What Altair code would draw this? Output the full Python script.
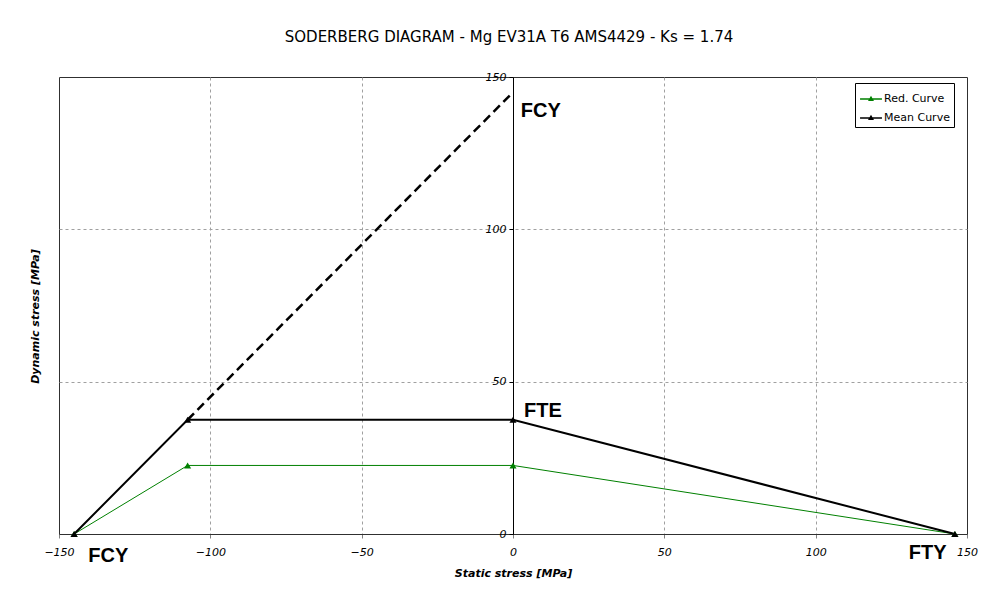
import altair as alt
import pandas as pd

# ---- data ----
series_names = ["Red. Curve", "Mean Curve"]
series_colors = ["#008000", "#000000"]

red_x = [-145, -107.5, 0, 146]
red_y = [0, 22.5, 22.5, 0]
mean_x = [-145, -107.5, 0, 146]
mean_y = [0, 37.5, 37.5, 0]
dash_x = [-107.5, 0]
dash_y = [37.5, 145]

lab_text = ["FCY", "FCY", "FTE", "FTY"]
lab_x = [-133.7, 9.2, 9.9, 137.0]
lab_y = [-9.2, 136.8, 38.5, -8.2]

x_ticks = [-150, -100, -50, 0, 50, 100, 150]
y_ticks = [0, 50, 100, 150]

TITLE = "SODERBERG DIAGRAM - Mg EV31A T6 AMS4429 - Ks = 1.74"
FONT = "DejaVu Sans"

rows = []
for x, y in zip(red_x, red_y):
    rows.append({"x": x, "y": y, "series": series_names[0]})
for x, y in zip(mean_x, mean_y):
    rows.append({"x": x, "y": y, "series": series_names[1]})
df = pd.DataFrame(rows)
dash_df = pd.DataFrame({"x": dash_x, "y": dash_y})
lab_df = pd.DataFrame({"t": lab_text, "x": lab_x, "y": lab_y})

W, H = 908, 457

xscale = alt.Scale(domain=[-150, 150], nice=False, zero=False)
yscale = alt.Scale(domain=[0, 150], nice=False, zero=False)
color = alt.Color(
    "series:N",
    scale=alt.Scale(domain=series_names, range=series_colors),
    legend=alt.Legend(
        title=None, orient="none", legendX=796, legendY=6,
        strokeColor="#000000", fillColor="#ffffff", padding=4,
        labelFont=FONT, labelFontSize=11, labelColor="#000000", labelOffset=1,
        symbolType="M-1,0L1,0M-0.17,0.13L0,-0.17L0.17,0.13Z",
        symbolSize=480, symbolStrokeWidth=1.3, rowPadding=2,
    ),
)

xaxis = alt.Axis(
    values=x_ticks, title="Static stress [MPa]", grid=True,
    gridDash=[3, 3], gridColor="#a0a0a0",
    gridOpacity={"condition": {"test": "abs(datum.value) == 150", "value": 0}, "value": 1},
    domain=True, domainColor="#303030", labelFlush=False, labelOverlap=False,
    tickColor="#808080", tickSize=4, labelPadding=8,
    labelFont=FONT, labelFontSize=11, labelFontStyle="italic", labelColor="#000000",
    titleFont=FONT, titleFontSize=11, titleFontStyle="italic", titleFontWeight="bold",
    titleColor="#000000", titlePadding=10,
)
yaxis = alt.Axis(
    values=y_ticks, title="Dynamic stress [MPa]", grid=True,
    gridDash=[3, 3], gridColor="#a0a0a0",
    gridOpacity={"condition": {"test": "datum.value == 150 || datum.value == 0", "value": 0}, "value": 1},
    offset=-454, labelFlush=False, labelOverlap=False,
    domain=True, domainColor="#000000", domainWidth=1,
    tickColor="#000000", tickSize=4, labelPadding=3,
    labelFont=FONT, labelFontSize=11, labelFontStyle="italic", labelColor="#000000",
    titleFont=FONT, titleFontSize=11, titleFontStyle="italic", titleFontWeight="bold",
    titleColor="#000000", titleX=-478, titleY=239, titleAlign="center",
    titleBaseline="middle", titleAngle=270,
)

base = alt.Chart(df)
x_enc = alt.X("x:Q", scale=xscale, axis=xaxis)
y_enc = alt.Y("y:Q", scale=yscale, axis=yaxis)

dashed = alt.Chart(dash_df).mark_line(color="#000000", strokeWidth=2.5, strokeDash=[9, 5]).encode(
    x=alt.X("x:Q", scale=xscale), y=alt.Y("y:Q", scale=yscale)
)
red_line = base.transform_filter(alt.datum.series == series_names[0]).mark_line(strokeWidth=1).encode(
    x=x_enc, y=y_enc, color=color
)
mean_line = base.transform_filter(alt.datum.series == series_names[1]).mark_line(strokeWidth=2).encode(
    x=x_enc, y=y_enc, color=color
)
pts = base.mark_point(shape="triangle-up", filled=True, size=50, opacity=1).encode(
    x=x_enc, y=y_enc, color=color
)
labels = alt.Chart(lab_df).mark_text(
    font="Liberation Sans", fontSize=20, fontWeight="bold", align="center",
    baseline="alphabetic", color="#000000", clip=False,
).encode(x=alt.X("x:Q", scale=xscale), y=alt.Y("y:Q", scale=yscale), text="t:N")

chart = alt.layer(dashed, red_line, mean_line, pts, labels).properties(
    width=W, height=H,
    view=alt.ViewBackground(stroke="#303030", strokeWidth=1, fill="#ffffff"),
    title=alt.TitleParams(TITLE, font=FONT, fontSize=15, fontWeight="normal",
                          color="#000000", anchor="middle", offset=26, dx=-4),
    autosize=alt.AutoSizeParams(type="none"),
    padding={"left": 51, "top": 69, "right": 29, "bottom": 50},
).configure_view(stroke="#303030", strokeWidth=1).configure(background="#ffffff")

chart.save("out.html", embed_options={"renderer": "svg", "actions": False})
